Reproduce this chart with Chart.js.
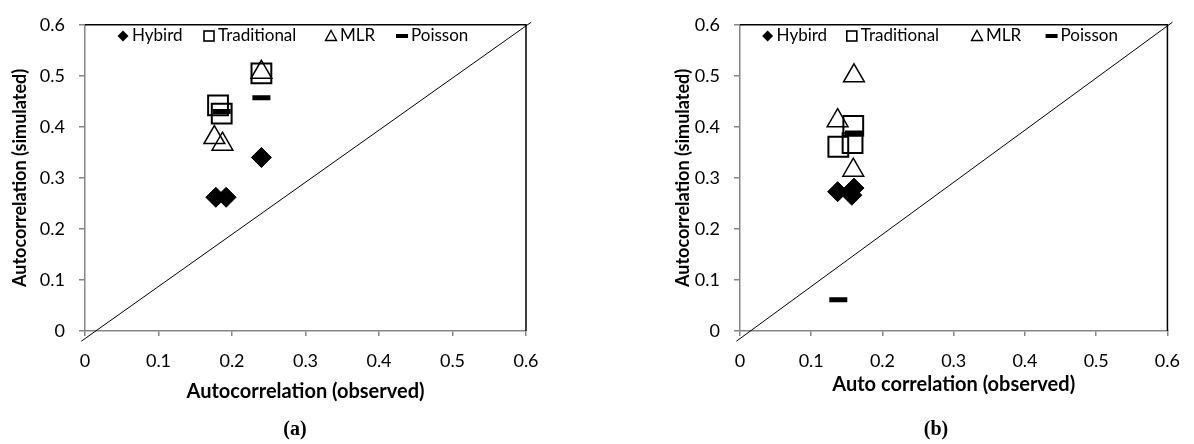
<!DOCTYPE html>
<html>
<head>
<meta charset="utf-8">
<script src="https://cdn.jsdelivr.net/npm/chart.js@4.4.0/dist/chart.umd.min.js"></script>
<style>
body { margin: 0; background: #fff; width: 1194px; height: 444px; position: relative; overflow: hidden; }
canvas { position: absolute; top: 0; }
#chartA { left: 0; }
#chartB { left: 597px; }
.cap { position: absolute; top: 417px; line-height: 22px; font: bold 20px "Liberation Serif", serif; transform: translateX(-50%); }
</style>
</head>
<body>
<canvas id="chartA" width="597" height="444"></canvas>
<canvas id="chartB" width="597" height="444"></canvas>
<div class="cap" style="left:295px">(a)</div>
<div class="cap" style="left:936px">(b)</div>
<script>
const tickLabels = ['0', '0.1', '0.2', '0.3', '0.4', '0.5', '0.6'];
const seriesNames = ['Hybird', 'Traditional', 'MLR', 'Poisson'];
const diagLine = [{x: -0.005, y: -0.02}, {x: 0.607, y: 0.605}];

// panel (a)
const hybridA = [{x: 0.178, y: 0.262}, {x: 0.192, y: 0.262}, {x: 0.240, y: 0.340}];
const tradA = [{x: 0.181, y: 0.442}, {x: 0.186, y: 0.426}, {x: 0.240, y: 0.505}];
const mlrA = [{x: 0.176, y: 0.379}, {x: 0.187, y: 0.366}, {x: 0.240, y: 0.507}];
const poissonA = [{x: 0.240, y: 0.457}, {x: 0.186, y: 0.430}];

// panel (b)
const hybridB = [{x: 0.137, y: 0.273}, {x: 0.157, y: 0.266}, {x: 0.160, y: 0.280}];
const tradB = [{x: 0.138, y: 0.361}, {x: 0.158, y: 0.368}, {x: 0.159, y: 0.402}];
const mlrB = [{x: 0.137, y: 0.412}, {x: 0.159, y: 0.315}, {x: 0.160, y: 0.500}];
const poissonB = [{x: 0.138, y: 0.061}, {x: 0.160, y: 0.388}];

function drawSymbol(ctx, i, x, y) {
    ctx.beginPath();
    if (i == 0) {
        ctx.moveTo(x - 5.5, y); ctx.lineTo(x, y - 5.5); ctx.lineTo(x + 5.5, y); ctx.lineTo(x, y + 5.5);
        ctx.closePath(); ctx.fill();
    } else if (i == 1) {
        ctx.lineWidth = 1.6;
        ctx.strokeRect(x - 5, y - 5, 10, 10);
    } else if (i == 2) {
        ctx.lineWidth = 1.4;
        ctx.moveTo(x, y - 5.5); ctx.lineTo(x + 5.5, y + 4.5); ctx.lineTo(x - 5.5, y + 4.5);
        ctx.closePath(); ctx.stroke();
    } else {
        ctx.fillRect(x - 6, y - 2, 12, 4);
    }
}

const framePlugin = {
    id: 'frame',
    afterDraw(chart, args, opts) {
        const ctx = chart.ctx;
        const a = chart.chartArea;
        ctx.save();
        ctx.strokeStyle = '#000';
        ctx.fillStyle = '#000';
        ctx.lineWidth = 1.5;
        ctx.beginPath();
        ctx.moveTo(a.left, a.top);
        ctx.lineTo(a.right, a.top);
        ctx.lineTo(a.right, a.bottom);
        ctx.stroke();
        ctx.font = '17px Lato';
        ctx.textBaseline = 'middle';
        opts.legendX.forEach((lx, i) => {
            drawSymbol(ctx, i, lx, 36);
            ctx.fillText(seriesNames[i], lx + 9, 36);
        });
        ctx.restore();
    }
};

function makePanel(id, hybrid, trad, mlr, poisson, p) {
    const tickFont = {family: 'Lato', size: 18};
    return new Chart(document.getElementById(id), {
        type: 'scatter',
        data: {
            datasets: [
                {type: 'line', data: diagLine, borderColor: '#000', borderWidth: 1, pointRadius: 0, clip: false},
                {data: hybrid, pointStyle: 'rectRot', pointRadius: 10, backgroundColor: '#000', borderColor: '#000', borderWidth: 1},
                {data: trad, pointStyle: 'rect', pointRadius: 14, backgroundColor: 'rgba(0,0,0,0)', borderColor: '#000', borderWidth: 2},
                {data: mlr, pointStyle: 'triangle', pointRadius: 12, backgroundColor: 'rgba(0,0,0,0)', borderColor: '#000', borderWidth: 1.5},
                {data: poisson, pointStyle: 'line', pointRadius: 9, borderColor: '#000', borderWidth: 5}
            ]
        },
        options: {
            responsive: false,
            animation: false,
            events: [],
            layout: {padding: {left: 0, right: p.padRight, top: 18, bottom: 0}},
            plugins: {
                legend: {display: false},
                tooltip: {enabled: false},
                frame: {legendX: p.legendX}
            },
            scales: {
                x: {
                    type: 'linear', min: 0, max: 0.6,
                    ticks: {stepSize: 0.1, callback: (v, i) => tickLabels[i], color: '#000', font: tickFont, padding: 14, maxRotation: 0},
                    grid: {drawOnChartArea: false, drawTicks: true, tickLength: 5, color: '#868686', lineWidth: 1.5},
                    border: {color: '#868686', width: 1.5},
                    title: {display: true, text: p.xTitle, color: '#000', font: {family: 'Lato', size: 20, weight: 'bold'}, padding: {top: 0, bottom: p.xTitlePad}},
                    afterFit: s => { s.height = 113; }
                },
                y: {
                    type: 'linear', min: 0, max: 0.6,
                    ticks: {stepSize: 0.1, callback: (v, i) => tickLabels[i], color: '#000', font: tickFont, padding: 14},
                    grid: {drawOnChartArea: false, drawTicks: true, tickLength: 6, color: '#868686', lineWidth: 1.5},
                    border: {color: '#868686', width: 1.5},
                    title: {display: true, text: 'Autocorrelation (simulated)', color: '#000', font: {family: 'Lato', size: 18, weight: 'bold'}, padding: {top: p.yTitlePad, bottom: 0}},
                    afterFit: s => { s.width = p.yWidth; }
                }
            }
        },
        plugins: [framePlugin]
    });
}

makePanel('chartA', hybridA, tradA, mlrA, poissonA, {
    padRight: 71, yWidth: 85, yTitlePad: 9, xTitlePad: 40,
    xTitle: 'Autocorrelation (observed)',
    legendX: [123, 209, 331, 402]
});
makePanel('chartB', hybridB, tradB, mlrB, poissonB, {
    padRight: 23, yWidth: 143, yTitlePad: 75, xTitlePad: 47,
    xTitle: 'Auto correlation (observed)',
    legendX: [170.6, 254.8, 380, 454.6]
});
</script>
</body>
</html>
